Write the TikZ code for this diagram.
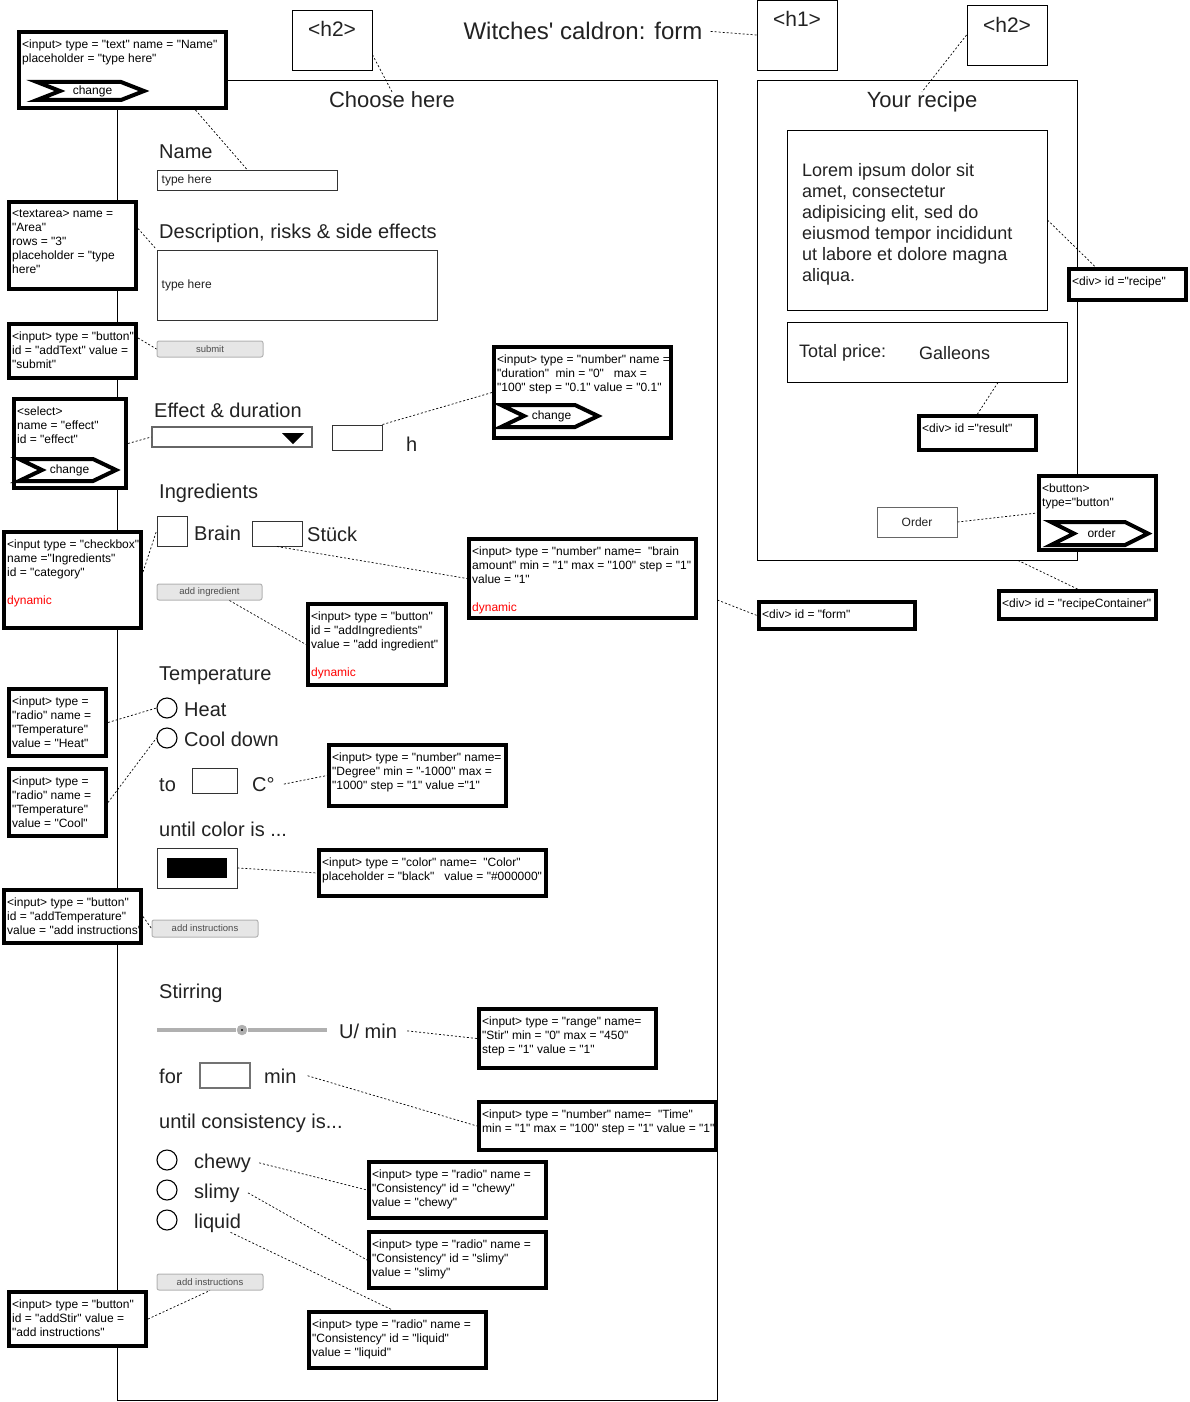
\documentclass[tikz,border=0pt]{standalone}
\usepackage{fontspec}
\setmainfont{Liberation Sans}[Ligatures=TeXOff]
\definecolor{txt}{HTML}{222222}
\definecolor{btnfill}{HTML}{E6E6E6}
\definecolor{btnline}{HTML}{B3B3B3}
\definecolor{slidergray}{HTML}{B0B0B0}

\tikzset{
	thinbox/.style={draw=black, line width=0.9pt, fill=white, inner sep=0},
	field/.style={draw=black!80, line width=1pt, fill=white, inner sep=0},
	selbox/.style={draw=black!60, line width=1.5pt, fill=white, inner sep=0},
	timebox/.style={draw=black!55, line width=1.6pt, fill=white, inner sep=0},
	annbox/.style={draw=black, line width=4pt, fill=white, inner sep=0},
	anntext/.style={font=\fontsize{12}{14}\selectfont, align=left, anchor=north west, inner sep=0, text=black},
	lbl/.style={font=\fontsize{20}{24}\selectfont, anchor=base west, inner sep=0, text=txt},
	headlbl/.style={font=\fontsize{22}{26}\selectfont, anchor=base, inner sep=0, text=txt},
	hint/.style={font=\fontsize{12}{14}\selectfont, anchor=west, inner sep=0, text=txt},
	btn/.style={draw=btnline, fill=btnfill, rounded corners=2pt, line width=1pt, inner sep=0, font=\fontsize{9.5}{11}\selectfont, text=black!70},
	chevline/.style={draw=black, line width=4pt, fill=white, line join=miter},
	radio/.style={circle, draw=black, line width=1.1pt, minimum size=20pt, inner sep=0},
	slidertrack/.style={draw=slidergray, line width=4pt},
	conn/.style={draw=black, line width=0.7pt, dash pattern=on 2pt off 2pt},
}

% box from (x1,y1) to (x2,y2)
\newcommand{\boxnode}[6]{%
	\node[#1, minimum width={#5-#3}, minimum height={#6-#4}] (#2) at ({(#3+#5)/2},{(#4+#6)/2}) {};}
% annotation box with its text
\newcommand{\annot}[6]{%
	\node[annbox, minimum width={#4-#2-4}, minimum height={#5-#3-4}] (#1) at ({(#2+#4)/2},{(#3+#5)/2}) {};
	\node[anntext] at ({#2+5},{#3+9.5}) {#6};}
% step shaped button
\newcommand{\chev}[6]{%
	\draw[chevline] (#2,#3) -- ({#4-23},#3) -- (#4,{(#3+#5)/2}) -- ({#4-23},#5) -- (#2,#5) -- ({#2+23},{(#3+#5)/2}) -- cycle;
	\node[anntext, anchor=center] (#1) at ({(#2+#4)/2+2},{(#3+#5)/2}) {#6};}

\begin{document}
\begin{tikzpicture}[x=1pt, y=-1pt]
	\useasboundingbox (0,0) rectangle (1189,1402);
	
	% Containers
	\boxnode{thinbox}{form}{117}{80}{717}{1400}
	\boxnode{thinbox}{container}{757}{80}{1077}{560}
	
	% Headings
	\boxnode{thinbox}{h2a}{292}{10}{372}{70}
	\node[headlbl, font=\fontsize{21}{24}\selectfont] at (332,37) {<h2>};
	\boxnode{thinbox}{h1}{757}{0}{837}{70}
	\node[headlbl, font=\fontsize{21}{24}\selectfont] at (797,27) {<h1>};
	\boxnode{thinbox}{h2b}{967}{5}{1047}{65}
	\node[headlbl, font=\fontsize{21}{24}\selectfont] at (1007,33) {<h2>};
	\node[headlbl, font=\fontsize{24}{28}\selectfont] (title) at (583,40) {Witches' caldron: form};
	\node[headlbl] (choose) at (392,108) {Choose here};
	\node[headlbl] (yourrecipe) at (922,108) {Your recipe};
	
	% Name and description
	\node[lbl] at (159,158) {Name};
	\boxnode{field}{namefield}{157}{170}{337}{190}
	\node[hint] at ([xshift=5pt]namefield.west) {type here};
	\node[lbl] at (159,238) {Description, risks \& side effects};
	\boxnode{field}{descfield}{157}{250}{437}{320}
	\node[hint] at ([xshift=5pt]descfield.west) {type here};
	\node[btn, minimum width=106, minimum height=16] (submitbtn) at (210,349) {submit};
	
	% Effect & duration
	\node[lbl] at (154,417) {Effect \& duration};
	\boxnode{selbox}{effectsel}{152}{427}{312}{447}
	\fill (282,433) -- (304,433) -- (293,444) -- cycle;
	\boxnode{field}{durfield}{332}{425}{382}{450}
	\node[lbl] at (406,451) {h};
	
	% Ingredients
	\node[lbl] at (159,498) {Ingredients};
	\boxnode{field}{brainchk}{157}{516}{187}{546}
	\node[lbl] at (194,540) {Brain};
	\boxnode{field}{amountfield}{252}{521}{302}{546}
	\node[lbl] at (307,541) {Stück};
	\node[btn, minimum width=105, minimum height=16] (addingbtn) at (209.5,592) {add ingredient};
	
	% Temperature
	\node[lbl] at (159,680) {Temperature};
	\foreach \name/\y/\txt in {heat/708/Heat, cool/738/Cool down}{
		\node[radio] (\name) at (167,\y) {};
		\node[lbl] at (184,\y+8) {\txt};
	}
	\node[lbl] at (159,791) {to};
	\boxnode{field}{degfield}{192}{768}{237}{793}
	\node[lbl] (degC) at (252,791) {C°};
	\node[lbl] at (159,836) {until color is ...};
	\boxnode{field}{colorfield}{157}{848}{237}{888}
	\fill (167,858) rectangle (227,878);
	\node[btn, minimum width=106, minimum height=17] (addtempbtn) at (205,928.5) {add instructions};
	
	% Stirring
	\node[lbl] at (159,998) {Stirring};
	\draw[slidertrack] (157,1030) -- (236,1030);
	\draw[slidertrack] (248,1030) -- (327,1030);
	\draw[draw=slidergray, fill=slidergray] (242,1030) circle (5);
	\fill (242,1030) circle (1.2);
	\node[lbl] (ulbl) at (339,1038) {U/ min};
	\node[lbl] at (159,1083) {for};
	\boxnode{timebox}{timefield}{200}{1063}{250}{1088}
	\node[lbl] (minlbl) at (264,1083) {min};
	\node[lbl] at (159,1128) {until consistency is...};
	\foreach \name/\y in {chewy/1160, slimy/1190, liquid/1220}{
		\node[radio] (\name) at (167,\y) {};
		\node[lbl] (\name-lbl) at (194,\y+8) {\name};
	}
	\node[btn, minimum width=106, minimum height=16] (addstirbtn) at (210,1282) {add instructions};
	
	% Recipe side
	\boxnode{thinbox}{recipe}{787}{130}{1047}{310}
	\node[font=\fontsize{18}{21}\selectfont, align=left, anchor=north west, inner sep=0, text=txt] at (802,163)
		{Lorem ipsum dolor sit\\amet, consectetur\\adipisicing elit, sed do\\eiusmod tempor incididunt\\ut labore et dolore magna\\aliqua.};
	\boxnode{thinbox}{price}{787}{322}{1067}{382}
	\node[lbl, font=\fontsize{18}{21}\selectfont] at (799,357) {Total price:};
	\node[lbl, font=\fontsize{18}{21}\selectfont] at (919,359) {Galleons};
	\node[field, draw=black!60, minimum width=80, minimum height=30, font=\fontsize{12}{14}\selectfont, text=txt] (orderbtn) at (917,522) {Order};
	
	% Annotations
	\annot{annName}{17}{30}{228}{110}{<input> type = "text" name = "Name"\\placeholder = "type here"}
	\chev{chName}{37}{82}{144}{100}{change}
	\annot{annArea}{7}{200}{138}{291}{<textarea> name =\\"Area"\\rows = "3"\\placeholder = "type\\here"}
	\annot{annSubmit}{7}{322}{138}{380}{<input> type = "button"\\id = "addText" value =\\"submit"}
	\annot{annEffect}{12}{397}{128}{490}{<select>\\name = "effect"\\id = "effect"}
	\chev{chEffect}{19}{459}{116}{481}{change}
	\annot{annCategory}{2}{530}{143}{630}{<input type = "checkbox"\\name ="Ingredients"\\id = "category"\\[14pt]\textcolor{red}{dynamic}}
	\annot{annDuration}{492}{345}{673}{440}{<input> type = "number" name =\\"duration"\ \ min = "0"\ \ \ max =\\"100" step = "0.1" value = "0.1"}
	\chev{chDuration}{501}{405}{598}{427}{change}
	\annot{annAmount}{467}{537}{698}{620}{<input> type = "number" name=\ \ "brain\\amount" min = "1" max = "100" step = "1"\\value = "1"\\[14pt]\textcolor{red}{dynamic}}
	\annot{annAddIngr}{306}{602}{448}{687}{<input> type = "button"\\id = "addIngredients"\\value = "add ingredient"\\[14pt]\textcolor{red}{dynamic}}
	\annot{annHeat}{7}{687}{108}{758}{<input> type =\\"radio" name =\\"Temperature"\\value = "Heat"}
	\annot{annCool}{7}{767}{108}{838}{<input> type =\\"radio" name =\\"Temperature"\\value = "Cool"}
	\annot{annDegree}{327}{743}{508}{808}{<input> type = "number" name=\\"Degree" min = "-1000" max =\\"1000" step = "1" value ="1"}
	\annot{annColor}{317}{848}{548}{898}{<input> type = "color" name=\ \ "Color"\\placeholder = "black"\ \ \ value = "\#000000"}
	\annot{annAddTemp}{2}{888}{143}{945}{<input> type = "button"\\id = "addTemperature"\\value = "add instructions"}
	\annot{annStir}{477}{1007}{658}{1070}{<input> type = "range" name=\\"Stir" min = "0" max = "450"\\step = "1" value = "1"}
	\annot{annTime}{477}{1100}{718}{1152}{<input> type = "number" name=\ \ "Time"\\min = "1" max = "100" step = "1" value = "1"}
	\annot{annChewy}{367}{1160}{548}{1220}{<input> type = "radio" name =\\"Consistency" id = "chewy"\\value = "chewy"}
	\annot{annSlimy}{367}{1230}{548}{1290}{<input> type = "radio" name =\\"Consistency" id = "slimy"\\value = "slimy"}
	\annot{annLiquid}{307}{1310}{488}{1370}{<input> type = "radio" name =\\"Consistency" id = "liquid"\\value = "liquid"}
	\annot{annAddStir}{7}{1290}{148}{1348}{<input> type = "button"\\id = "addStir" value =\\"add instructions"}
	\annot{annRecipe}{1067}{267}{1188}{302}{<div> id ="recipe"}
	\annot{annResult}{917}{414}{1038}{452}{<div> id ="result"}
	\annot{annOrder}{1037}{474}{1158}{552}{<button>\\type="button"}
	\chev{chOrder}{1051}{522}{1148}{545}{order}
	\annot{annContainer}{997}{589}{1158}{621}{<div> id = "recipeContainer"}
	\annot{annForm}{757}{600}{917}{631}{<div> id = "form"}
	
	% Connectors
	\draw[conn] ([xshift=8pt]title.east) -- (h1.west);
	\draw[conn] (h2a.-20) -- (choose.north);
	\draw[conn] (h2b.west) -- (yourrecipe.north);
	\draw[conn] ([xshift=73pt]annName.south) -- (namefield.north);
	\draw[conn] ([yshift=17pt]annArea.east) -- (descfield.north west);
	\draw[conn] ([yshift=13pt]annSubmit.east) -- (submitbtn.west);
	\draw[conn] (annEffect.east) -- (effectsel.west);
	\draw[conn] (durfield.north east) -- (annDuration.west);
	\draw[conn] ([yshift=8pt]annCategory.east) -- (brainchk.west);
	\draw[conn] (amountfield.south) -- (annAmount.west);
	\draw[conn] ([xshift=20pt]addingbtn.south) -- (annAddIngr.west);
	\draw[conn] (annHeat.east) -- (heat.west);
	\draw[conn] (annCool.east) -- (cool.west);
	\draw[conn] ([xshift=9pt]degC.east) -- (annDegree.west);
	\draw[conn] (colorfield.east) -- (annColor.west);
	\draw[conn] (annAddTemp.east) -- (addtempbtn.west);
	\draw[conn] ([xshift=10pt]ulbl.east) -- (annStir.west);
	\draw[conn] ([xshift=11pt]minlbl.east) -- (annTime.west);
	\draw[conn] ([xshift=8pt]chewy-lbl.east) -- (annChewy.west);
	\draw[conn] ([xshift=8pt]slimy-lbl.east) -- (annSlimy.west);
	\draw[conn] ([xshift=13pt]liquid-lbl.south) -- ([xshift=-5pt]annLiquid.north);
	\draw[conn] (annAddStir.east) -- (addstirbtn.south);
	\draw[conn] ([yshift=140pt]form.east) -- (annForm.west);
	\draw[conn] (recipe.east) -- ([xshift=-32pt]annRecipe.north);
	\draw[conn] ([xshift=71pt]price.south) -- (annResult.north);
	\draw[conn] (orderbtn.east) -- (annOrder.west);
	\draw[conn] ([xshift=101pt]container.south) -- (annContainer.north);
\end{tikzpicture}
\end{document}
